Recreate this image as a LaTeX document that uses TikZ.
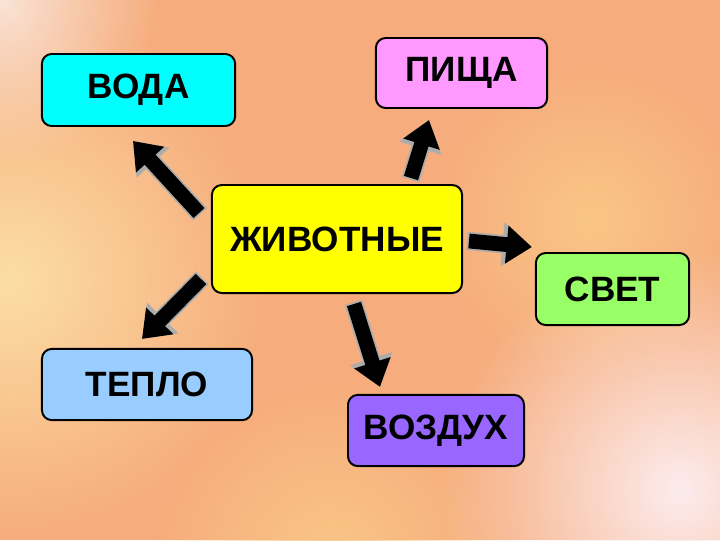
\documentclass[tikz,border=0pt]{standalone}
\usepackage{fontspec}
\setmainfont{Liberation Sans}
\usetikzlibrary{calc, positioning, arrows.meta, fadings}

\definecolor{bgbase}{RGB}{246,172,124}
\definecolor{bgyellow}{RGB}{252,222,165}
\definecolor{bgpale}{RGB}{250,228,215}
\definecolor{bgpink}{RGB}{253,236,238}
\definecolor{bgwarm}{RGB}{250,198,135}
\definecolor{vodacol}{RGB}{0,255,255}
\definecolor{pishchacol}{RGB}{255,153,255}
\definecolor{zhivcol}{RGB}{255,255,0}
\definecolor{svetcol}{RGB}{153,255,102}
\definecolor{teplocol}{RGB}{153,204,255}
\definecolor{vozdukhcol}{RGB}{153,102,255}

\tikzfading[name=softblob, inner color=transparent!0, outer color=transparent!100]

\begin{document}
\begin{tikzpicture}[x=0.025cm, y=-0.025cm,
  box/.style={draw=black, line width=1.4pt, rounded corners=7pt, font=\fontsize{25}{29}\selectfont\bfseries},
  bigarrow/.style={line width=10.5pt, draw=black, -{Triangle[width=26pt,length=18pt]},
    preaction={draw=gray!65, line width=13pt, -{Triangle[width=30pt,length=21pt]}, shorten <=-1.2pt}}]
\useasboundingbox (0,0) rectangle (720,540);
% background
\begin{scope}
\clip (0,0) rectangle (720,540);
\fill[bgbase] (0,0) rectangle (720,540);
\fill[bgwarm, path fading=softblob] (590,220) circle (4cm);
\fill[bgwarm, path fading=softblob] (330,560) circle (4.5cm);
\fill[bgyellow, path fading=softblob] (10,280) circle (6.5cm);
\fill[bgpale, path fading=softblob] (0,0) circle (4cm);
\fill[bgpink, path fading=softblob] (680,490) circle (6cm);
\end{scope}

% boxes
\node[box, fill=zhivcol, minimum width=6.25cm, minimum height=2.7cm] (zhiv) at (337,239) {ЖИВОТНЫЕ};
\node[box, fill=vodacol, minimum width=4.83cm, minimum height=1.8cm] (voda) at (138.5,90) {ВОДА};
\node[box, fill=pishchacol, minimum width=4.28cm, minimum height=1.75cm] (pishcha) at (461.5,73) {ПИЩА};
\node[box, fill=svetcol, minimum width=3.83cm, minimum height=1.8cm] (svet) at (612.5,289) {СВЕТ};
\node[box, fill=teplocol, minimum width=5.25cm, minimum height=1.78cm] (teplo) at (147,384.5) {ТЕПЛО};
\node[box, fill=vozdukhcol, minimum width=4.4cm, minimum height=1.78cm] (vozdukh) at (436,430.5) {ВОЗДУХ};

% arrows
\draw[bigarrow] ($(zhiv.north west)+(-12,29)$) -- ($(voda.south)+(-5.5,14)$);
\draw[bigarrow] ($(zhiv.north)+(74,-6)$) -- ($(pishcha.south)+(-32.5,11)$);
\draw[bigarrow] ($(zhiv.east)+(6,2)$) -- ($(svet.north west)+(-3,-5)$);
\draw[bigarrow] ($(zhiv.south west)+(-10,-15)$) -- ($(teplo.north)+(-5,-9)$);
\draw[bigarrow] ($(zhiv.south)+(17,10)$) -- ($(vozdukh.north west)+(33,-7)$);
\end{tikzpicture}
\end{document}
